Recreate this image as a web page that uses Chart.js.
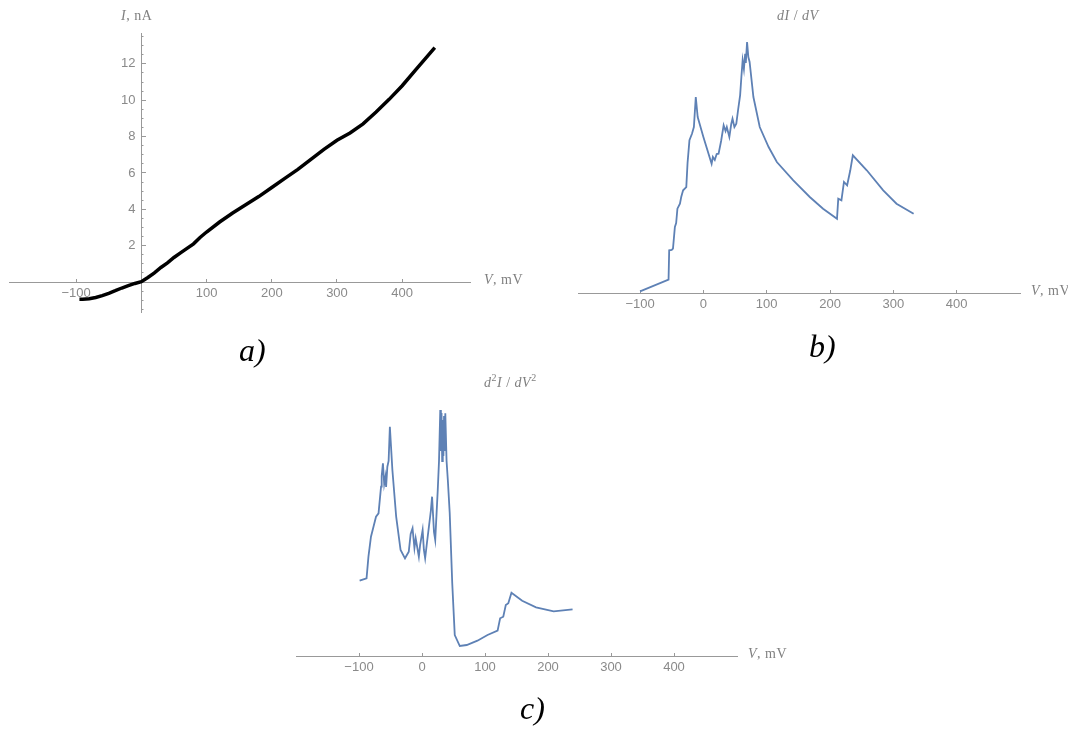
<!DOCTYPE html>
<html>
<head>
<meta charset="utf-8">
<script src="https://cdn.jsdelivr.net/npm/chart.js@4.4.1/dist/chart.umd.min.js"></script>
<style>
  html, body { margin: 0; padding: 0; background: #fff; }
  body { width: 1068px; height: 735px; position: relative; overflow: hidden; }
  canvas { position: absolute; left: 0; top: 0; }
  .lbl { position: absolute; color: #808080; font: 14px 'Liberation Serif', serif; white-space: nowrap; letter-spacing: 0.5px; }
  .lbl sup { font-size: 10px; }
  .tag { position: absolute; color: #000; font: italic 32px 'Liberation Serif', serif; line-height: 1; }
</style>
</head>
<body>
<canvas id="chartA" width="1068" height="735"></canvas>
<canvas id="chartB" width="1068" height="735"></canvas>
<canvas id="chartC" width="1068" height="735"></canvas>

<div class="lbl" style="left:121px; top:8px;"><i>I</i>, nA</div>
<div class="lbl" style="left:484px; top:272px;"><i>V</i>, mV</div>
<div class="lbl" style="left:777px; top:8px;"><i>dI</i> / <i>dV</i></div>
<div class="lbl" style="left:1031px; top:283px;"><i>V</i>, mV</div>
<div class="lbl" style="left:484px; top:372px;"><i>d</i><sup>2</sup><i>I</i> / <i>dV</i><sup>2</sup></div>
<div class="lbl" style="left:748px; top:646px;"><i>V</i>, mV</div>

<div class="tag" style="left:239px; top:334px;">a)</div>
<div class="tag" style="left:809px; top:330px;">b)</div>
<div class="tag" style="left:520px; top:692px;">c)</div>

<script>
// a) I-V curve
const aVoltage = [-95, -90, -80, -70, -60, -50, -40, -30, -20, -10, 0, 10, 20, 30, 40, 50, 60, 70, 80, 90, 100,
    120, 140, 160, 180, 200, 220, 240, 260, 280, 300, 320, 340, 360, 380, 400, 420, 450];
const aCurrent = [-0.95, -0.95, -0.92, -0.85, -0.75, -0.62, -0.48, -0.33, -0.2, -0.08, 0.02, 0.25, 0.5, 0.8, 1.05, 1.35, 1.6, 1.85, 2.1, 2.45, 2.75,
    3.3, 3.8, 4.25, 4.7, 5.2, 5.7, 6.2, 6.75, 7.3, 7.8, 8.2, 8.7, 9.35, 10.05, 10.8, 11.65, 12.9];

// b) dI/dV (arbitrary units)
const bVoltage = [-100, -55, -54, -50, -48, -45, -43, -41, -37, -35, -32, -27, -25, -22, -18, -15, -12, -9, 0, 13, 15, 18, 21, 24, 28, 32, 35, 37,
    41, 44, 46, 49, 52, 55, 58, 60, 62, 64, 66, 67, 69, 71, 73, 79, 89, 103, 116, 142, 168, 189, 211, 213, 218, 222, 227, 232, 236, 258, 284, 305, 332];
const bConductance = [0.17, 1.33, 4.27, 4.3, 4.43, 6.6, 7.0, 8.43, 8.93, 9.6, 10.27, 10.6, 13.0, 15.27, 15.93, 16.6, 19.6, 17.6, 15.6, 12.93, 13.6, 13.3, 13.9, 13.93, 15.2, 16.77, 16.2, 16.6,
    15.6, 16.9, 17.43, 16.6, 16.93, 18.4, 19.77, 21.6, 23.27, 22.4, 23.93, 23.0, 25.1, 23.6, 23.1, 19.6, 16.6, 14.6, 13.1, 11.27, 9.6, 8.43, 7.43, 9.43, 9.27, 11.1, 10.77, 12.27, 13.77, 12.27, 10.27, 8.93, 7.93];

// c) d2I/dV2 (arbitrary units)
const cVoltage = [-99, -88, -85, -81, -77, -73, -69, -65, -64, -62, -60, -58, -57, -55, -53, -51, -47, -41, -34, -27, -21, -18, -15, -12, -10, -5, -3, 1, 3, 5, 8, 11,
    14, 16, 19, 21, 25, 27, 29, 30, 31, 32, 33, 34, 35, 36, 37, 39, 41, 44, 48, 52, 60, 71, 88, 104, 120, 124, 129, 133, 137, 142, 159, 181, 209, 239];
const cSecond = [7.53, 7.77, 9.93, 11.93, 12.93, 13.93, 14.27, 16.93, 18.0, 19.27, 17.2, 17.93, 16.9, 18.93, 19.5, 22.93, 18.6, 13.93, 10.6, 9.77, 10.43, 12.2, 12.77, 10.8, 11.77, 9.93, 11.1, 12.6, 10.6, 9.77, 11.4, 12.93,
    14.5, 15.93, 12.4, 11.6, 16.6, 19.5, 24.6, 20.5, 24.3, 19.5, 23.6, 20.0, 24.0, 20.5, 24.27, 19.5, 17.6, 14.27, 7.27, 2.1, 1.0, 1.1, 1.53, 2.1, 2.53, 3.77, 3.93, 5.1, 5.27, 6.33, 5.53, 4.87, 4.47, 4.67];

const xTickValues = [-100, 0, 100, 200, 300, 400];
const aXTickValues = [-100, 100, 200, 300, 400];
const aMajorTicks = [2, 4, 6, 8, 10, 12];
const aMinorTicks = [-1.5, -1, -0.5, 0.5, 1, 1.5, 2.5, 3, 3.5, 4.5, 5, 5.5, 6.5, 7, 7.5, 8.5, 9, 9.5,
    10.5, 11, 11.5, 12.5, 13, 13.5];

const axisGray = '#999999';
const textGray = '#8a8a8a';
const blue = '#5e81b5';

function points(xs, ys) {
    return xs.map((x, i) => ({ x: x, y: ys[i] }));
}

function xAxis(min, max, tickValues) {
    return {
        type: 'linear',
        min: min,
        max: max,
        position: { y: 0 },
        afterFit: s => { s.height = 0; },
        afterBuildTicks: s => { s.ticks = tickValues.map(v => ({ value: v })); },
        grid: { drawOnChartArea: false, tickLength: -4, tickColor: axisGray },
        border: { color: axisGray, width: 1 },
        ticks: {
            padding: 8,
            color: textGray,
            font: { family: 'Liberation Sans', size: 13 },
            maxRotation: 0,
            autoSkip: false,
            callback: v => v < 0 ? '\u2212' + (-v) : String(v)
        }
    };
}

function makeChart(id, data, color, width, pad, scales) {
    new Chart(document.getElementById(id), {
        type: 'line',
        data: {
            datasets: [{
                data: data,
                borderColor: color,
                borderWidth: width,
                pointRadius: 0,
                tension: 0,
                fill: false
            }]
        },
        options: {
            responsive: false,
            animation: false,
            events: [],
            layout: { padding: pad },
            plugins: { legend: { display: false }, tooltip: { enabled: false } },
            scales: scales
        }
    });
}

document.addEventListener('DOMContentLoaded', function () {
    // a)
    const aY = { type: 'linear', min: -1.65, max: 13.7, afterFit: s => { s.width = 0; } };
    makeChart('chartA', points(aVoltage, aCurrent), '#000', 3.5,
        { left: 9, right: 1068 - 470, top: 33, bottom: 735 - 312 },
        {
            x: xAxis(-203, 504, aXTickValues),
            y: Object.assign({}, aY, {
                position: { x: 0 },
                afterBuildTicks: s => { s.ticks = aMajorTicks.map(v => ({ value: v })); },
                grid: { drawOnChartArea: false, tickLength: -5, tickColor: axisGray },
                border: { color: axisGray, width: 1 },
                ticks: { display: false }
            }),
            yMinor: Object.assign({}, aY, {
                position: { x: 0 },
                afterBuildTicks: s => { s.ticks = aMinorTicks.map(v => ({ value: v })); },
                grid: { drawOnChartArea: false, tickLength: -2.5, tickColor: axisGray },
                border: { display: false },
                ticks: { display: false }
            }),
            // labels of the I axis, set a few pixels left of the axis line
            yLabels: Object.assign({}, aY, {
                position: { x: -9 },
                afterBuildTicks: s => { s.ticks = aMajorTicks.map(v => ({ value: v })); },
                grid: { display: false },
                border: { display: false },
                ticks: { color: textGray, font: { family: 'Liberation Sans', size: 13 } }
            })
        });

    // b)
    makeChart('chartB', points(bVoltage, bConductance), blue, 1.8,
        { left: 578, right: 1068 - 1020, top: 30, bottom: 735 - 293 },
        {
            x: xAxis(-198, 500, xTickValues),
            y: { display: false, min: 0, max: 26.3 }
        });

    // c)
    makeChart('chartC', points(cVoltage, cSecond), blue, 1.8,
        { left: 296, right: 1068 - 737, top: 400, bottom: 735 - 656 },
        {
            x: xAxis(-200, 500, xTickValues),
            y: { display: false, min: 0, max: 25.6 }
        });
});
</script>
</body>
</html>
